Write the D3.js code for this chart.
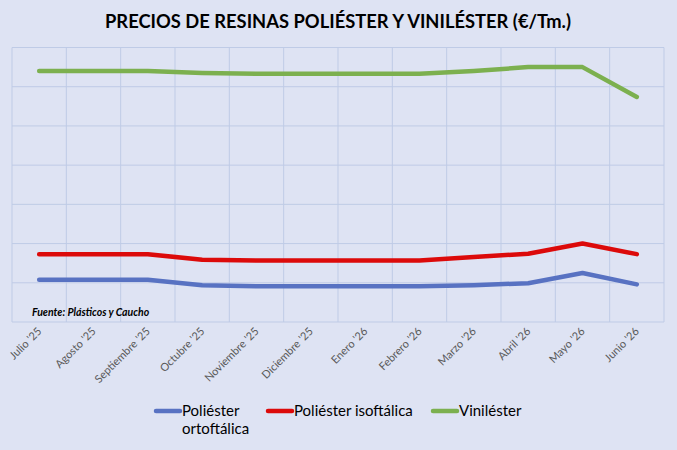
<!DOCTYPE html>
<html>
<head>
<meta charset="utf-8">
<script src="https://cdn.jsdelivr.net/npm/d3@7"></script>
<style>
  html, body { margin: 0; padding: 0; background: #dee3f3; }
  svg { display: block; font-family: Lato, "Open Sans", sans-serif; }
</style>
</head>
<body>
<svg id="chart" width="677" height="450"></svg>
<script>
// months on the x axis
var months = ["Julio '25", "Agosto '25", "Septiembre '25", "Octubre '25", "Noviembre '25",
  "Diciembre '25", "Enero '26", "Febrero '26", "Marzo '26", "Abril '26", "Mayo '26", "Junio '26"]

// €/Tm (axis labels are hidden in the original)
var ortoftalica = [1540, 1540, 1540, 1470, 1455, 1455, 1455, 1455, 1470, 1495, 1625, 1480]
var isoftalica  = [1865, 1865, 1865, 1795, 1785, 1785, 1785, 1785, 1830, 1870, 2000, 1865]
var vinilester  = [4200, 4200, 4200, 4175, 4165, 4165, 4165, 4165, 4200, 4250, 4250, 3870]

var yTicks = [1000, 1500, 2000, 2500, 3000, 3500, 4000, 4500]

var seriesNames = ['Poliéster ortoftálica', 'Poliéster isoftálica', 'Viniléster']
var seriesColours = ['#5872c2', '#dc0a0a', '#7cb04f']

var series = [ortoftalica, isoftalica, vinilester].map(function(v, i) {
  return { name: seriesNames[i], colour: seriesColours[i], values: v }
})

var svg = d3.select('#chart')
var margin = { top: 47.5, right: 13, bottom: 128, left: 12 }
var width = 677 - margin.left - margin.right
var height = 450 - margin.top - margin.bottom

var x = d3.scaleBand()
          .domain(months)
          .range([margin.left, margin.left + width])
var y = d3.scaleLinear()
          .domain([1000, 4500])
          .range([margin.top + height, margin.top])

// title
svg.append('text')
   .attr('x', 338)
   .attr('y', 28)
   .attr('text-anchor', 'middle')
   .attr('font-size', 18)
   .attr('font-weight', 'bold')
   .attr('fill', '#000')
   .attr('textLength', 466)
   .attr('lengthAdjust', 'spacingAndGlyphs')
   .text('PRECIOS DE RESINAS POLIÉSTER Y VINILÉSTER (€/Tm.)')

// grid
var grid = svg.append('g').attr('stroke', '#bfcbe6').attr('stroke-width', 1)
grid.selectAll('line.h')
    .data(yTicks)
    .enter()
    .append('line')
    .attr('x1', margin.left)
    .attr('x2', margin.left + width)
    .attr('y1', function(d) { return y(d) })
    .attr('y2', function(d) { return y(d) })
var vlines = months.map(function(m) { return x(m) }).concat([margin.left + width])
grid.selectAll('line.v')
    .data(vlines)
    .enter()
    .append('line')
    .attr('x1', function(d) { return d })
    .attr('x2', function(d) { return d })
    .attr('y1', margin.top)
    .attr('y2', margin.top + height)

// x labels
svg.append('g')
   .selectAll('text')
   .data(months)
   .enter()
   .append('text')
   .attr('transform', function(d) {
     return 'translate(' + (x(d) + x.bandwidth() / 2 + 3) + ',' + (margin.top + height + 10) + ') rotate(-45)'
   })
   .attr('text-anchor', 'end')
   .attr('font-size', 11)
   .attr('fill', '#595959')
   .text(function(d) { return d })

// source
svg.append('text')
   .attr('x', 32)
   .attr('y', 316)
   .attr('font-size', 10.5)
   .attr('font-weight', 'bold')
   .attr('font-style', 'italic')
   .attr('fill', '#000')
   .text('Fuente: Plásticos y Caucho')

// lines
var line = d3.line()
             .x(function(d, i) { return x(months[i]) + x.bandwidth() / 2 })
             .y(function(d) { return y(d) })

svg.append('g')
   .selectAll('path')
   .data(series)
   .enter()
   .append('path')
   .attr('fill', 'none')
   .attr('stroke', function(d) { return d.colour })
   .attr('stroke-width', 4.5)
   .attr('stroke-linejoin', 'round')
   .attr('stroke-linecap', 'round')
   .attr('d', function(d) { return line(d.values) })

// legend
var legendX = [156, 268, 433]
var legend = svg.append('g')
                .selectAll('g')
                .data(series)
                .enter()
                .append('g')
                .attr('transform', function(d, i) { return 'translate(' + legendX[i] + ',411)' })
legend.append('line')
      .attr('x1', 0)
      .attr('x2', 24)
      .attr('stroke', function(d) { return d.colour })
      .attr('stroke-width', 4.5)
      .attr('stroke-linecap', 'round')
var legendText = legend.append('text')
      .attr('x', 26)
      .attr('y', 5)
      .attr('font-size', 15)
      .attr('fill', '#000')
legendText.each(function(d, i) {
  var t = d3.select(this)
  if (i === 0) {
    t.append('tspan').attr('x', 26).text('Poliéster')
    t.append('tspan').attr('x', 26).attr('dy', 18).text('ortoftálica')
  } else {
    t.text(d.name)
  }
})
</script>
</body>
</html>
